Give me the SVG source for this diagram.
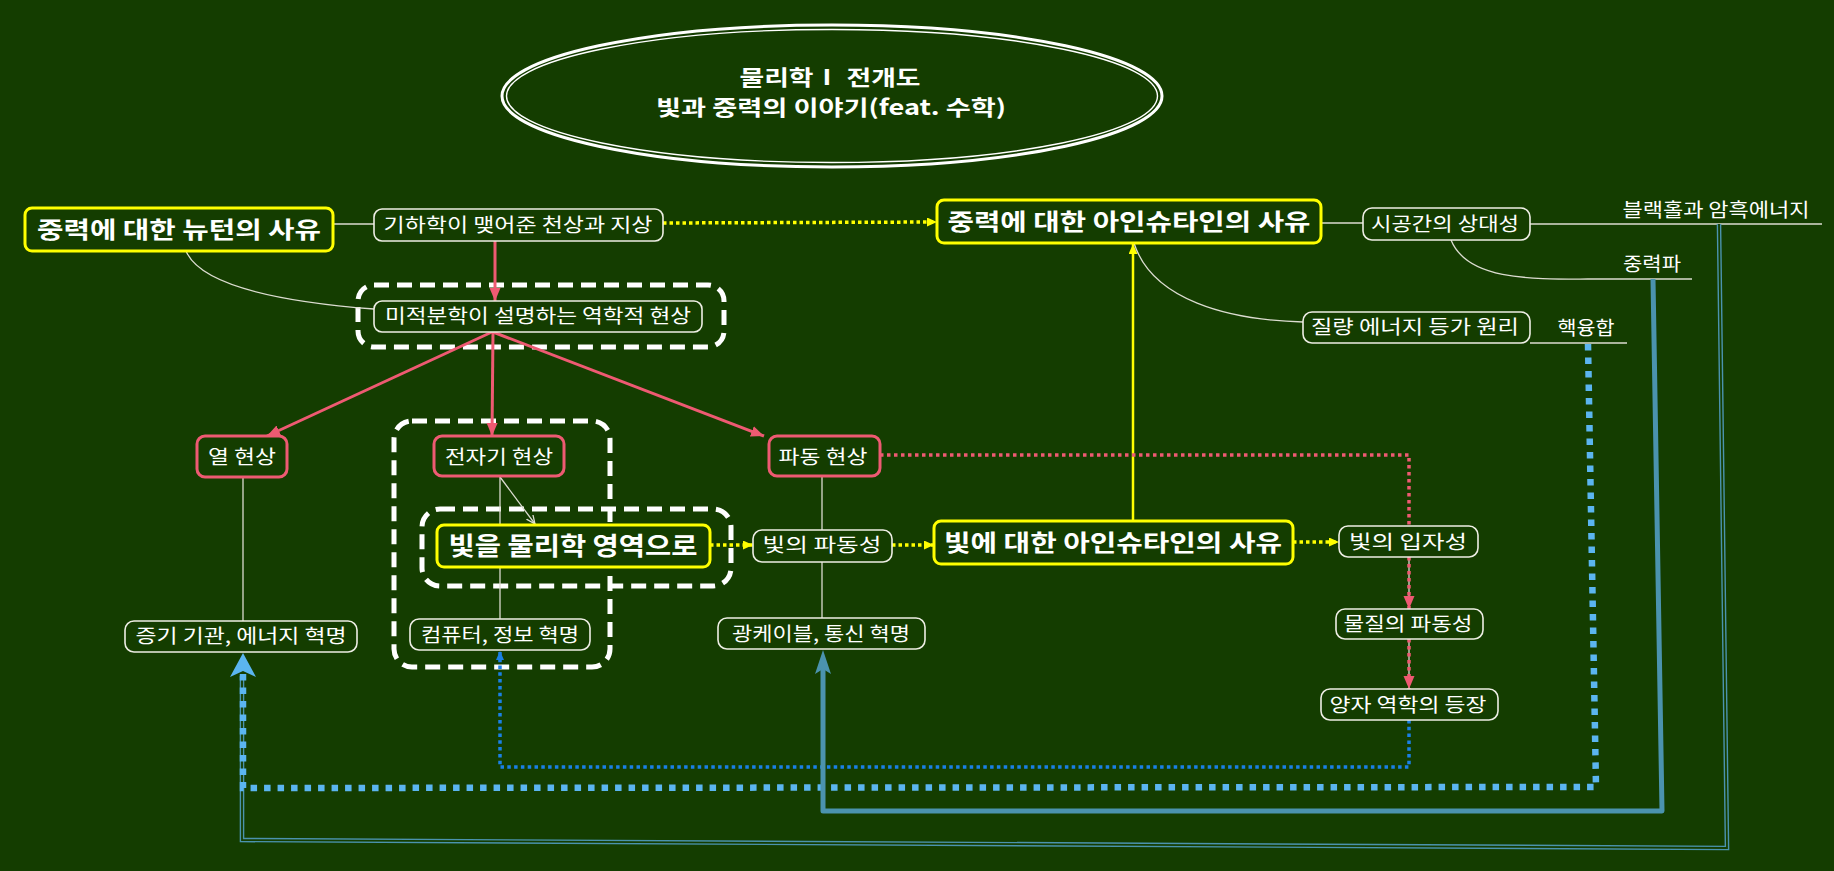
<svg xmlns="http://www.w3.org/2000/svg" width="1834" height="871" viewBox="0 0 1834 871">
<style>
  text { font-family: "Noto Sans CJK KR", "Noto Sans", sans-serif; fill: #ffffff; text-anchor: middle; }
  .t { font-size: 19.5px; }
  .b { font-size: 23px; font-weight: bold; }
  .box { fill: #143d00; stroke: #eeeee4; stroke-width: 1.6; }
  .ybox { fill: #143d00; stroke: #ffff00; stroke-width: 3; }
  .rbox { fill: #143d00; stroke: #ee5a72; stroke-width: 3; }
  .cloud { fill: none; stroke: #ffffff; stroke-width: 5; stroke-dasharray: 15 8; }
  .thin { fill: none; stroke: #dcdcd0; stroke-width: 1.3; }
  .red { fill: none; stroke: #ee5a72; stroke-width: 3; }
  .reddot { fill: none; stroke: #ee5a72; stroke-width: 3.5; stroke-dasharray: 3.5 3.5; }
  .ydot { fill: none; stroke: #ffff00; stroke-width: 3.5; stroke-dasharray: 3.5 3; }
  .ysolid { fill: none; stroke: #ffff00; stroke-width: 2.5; }
  .bdot { fill: none; stroke: #1a80e6; stroke-width: 3.5; stroke-dasharray: 3.5 3.3; }
  .lbdot { fill: none; stroke: #5bb5f0; stroke-width: 6.5; stroke-dasharray: 6.5 7; }
  .steel { fill: none; stroke: #4b93ae; stroke-width: 5; stroke-linejoin: round; }
  .dbl-out { fill: none; stroke: #4b93ae; stroke-width: 4.6; }
  .dbl-in { fill: none; stroke: #143d00; stroke-width: 1.8; }
</style>
<defs>
  <marker id="aRed" markerUnits="userSpaceOnUse" markerWidth="14" markerHeight="12" refX="13" refY="5.5" orient="auto">
    <path d="M0,0 L13,5.5 L0,11 z" fill="#ee5a72"/>
  </marker>
  <marker id="aYel" markerUnits="userSpaceOnUse" markerWidth="11" markerHeight="10" refX="10" refY="4.5" orient="auto">
    <path d="M0,0 L10,4.5 L0,9 z" fill="#ffff00"/>
  </marker>
  <marker id="aLB" markerUnits="userSpaceOnUse" markerWidth="26" markerHeight="28" refX="6" refY="13" orient="auto">
    <path d="M0,0 L24,13 L0,26 L6,13 z" fill="#5bb5f0"/>
  </marker>
  <marker id="aSteel" markerUnits="userSpaceOnUse" markerWidth="26" markerHeight="18" refX="5" refY="8" orient="auto">
    <path d="M0,0 L24,8 L0,16 L5,8 z" fill="#4b93ae"/>
  </marker>
  <marker id="aBlue" markerUnits="userSpaceOnUse" markerWidth="10" markerHeight="9" refX="9" refY="4" orient="auto">
    <path d="M0,0 L9,4 L0,8 z" fill="#1a80e6"/>
  </marker>
  <marker id="aGray" markerUnits="userSpaceOnUse" markerWidth="11" markerHeight="10" refX="9" refY="4" orient="auto">
    <path d="M0,0 L9,4 L0,8" fill="none" stroke="#dcdcd0" stroke-width="1.3"/>
  </marker>
</defs>

<rect x="0" y="0" width="1834" height="871" fill="#143d00"/>

<!-- title -->
<g id="title">
  <ellipse cx="832" cy="96" rx="330" ry="71" fill="none" stroke="#ffffff" stroke-width="3"/>
  <ellipse cx="832" cy="96" rx="325.5" ry="66.5" fill="none" stroke="#ffffff" stroke-width="1.4"/>
  <text x="830" y="85" font-size="21" font-weight="bold" textLength="181" lengthAdjust="spacingAndGlyphs">물리학Ⅰ 전개도</text>
  <text x="831" y="115" font-size="21" font-weight="bold" textLength="350" lengthAdjust="spacingAndGlyphs">빛과 중력의 이야기(feat. 수학)</text>
</g>

<!-- boundaries -->
<g id="boundaries">
  <rect class="cloud" x="358" y="285" width="366" height="62" rx="16"/>
  <rect class="cloud" x="394" y="421" width="216" height="246" rx="18"/>
  <rect class="cloud" x="422" y="509" width="309" height="77" rx="18"/>
</g>

<!-- connectors -->
<g id="connectors">
  <line class="thin" x1="333" y1="224" x2="374" y2="224"/>
  <path class="thin" d="M186,251 Q205,296 374,309"/>
  <line class="red" x1="495" y1="241" x2="495" y2="301" marker-end="url(#aRed)"/>
  <line class="ydot" x1="663" y1="223" x2="937" y2="222" marker-end="url(#aYel)"/>
  <line class="red" x1="492" y1="332" x2="267" y2="436" marker-end="url(#aRed)"/>
  <line class="red" x1="493" y1="332" x2="492" y2="436" marker-end="url(#aRed)"/>
  <line class="red" x1="493" y1="332" x2="764" y2="436" marker-end="url(#aRed)"/>
  <line class="thin" x1="243" y1="477" x2="243" y2="621"/>
  <line class="thin" x1="500" y1="476" x2="500" y2="619"/>
  <line class="thin" x1="500" y1="477" x2="535" y2="524" marker-end="url(#aGray)"/>
  <line class="thin" x1="822" y1="476" x2="822" y2="618"/>
  <line class="ydot" x1="710" y1="545" x2="753" y2="545" marker-end="url(#aYel)"/>
  <line class="ydot" x1="892" y1="545" x2="934" y2="545" marker-end="url(#aYel)"/>
  <line class="ydot" x1="1293" y1="542" x2="1339" y2="542" marker-end="url(#aYel)"/>
  <line class="ysolid" x1="1133" y1="521" x2="1133" y2="244" marker-end="url(#aYel)"/>
  <line class="thin" x1="1321" y1="223" x2="1363" y2="223"/>
  <line class="thin" x1="1530" y1="224" x2="1822" y2="224"/>
  <path class="thin" d="M1451,240 C1468,282 1535,279 1600,279 L1692,279"/>
  <path class="thin" d="M1134,243 C1152,300 1228,320 1303,322"/>
  <line class="thin" x1="1530" y1="343" x2="1627" y2="343"/>
  <path class="reddot" d="M880,455 L1409,455 L1409,526"/>
  <line class="thin" x1="1409" y1="557" x2="1409" y2="609"/>
  <line class="reddot" x1="1409" y1="557" x2="1409" y2="609" marker-end="url(#aRed)"/>
  <line class="thin" x1="1409" y1="639" x2="1409" y2="689"/>
  <line class="reddot" x1="1409" y1="639" x2="1409" y2="689" marker-end="url(#aRed)"/>
  <path class="bdot" d="M1409,720 L1409,767 L500,767 L500,651" marker-end="url(#aBlue)"/>
  <path class="dbl-out" d="M1719,224 L1727,848 L242,840 L242,676"/>
  <path class="dbl-in" d="M1719,224 L1727,848 L242,840 L242,676"/>
  <path class="lbdot" d="M1588,344 L1596,787 L243,788 L243,671" marker-end="url(#aLB)"/>
  <path class="steel" d="M1653,279 L1662,811 L823,811 L823,669" marker-end="url(#aSteel)"/>
</g>

<!-- nodes -->
<g id="n-newton">
  <rect class="ybox" x="25" y="208" width="308" height="43" rx="7"/>
  <text class="b" x="179" y="238" textLength="284" lengthAdjust="spacingAndGlyphs">중력에 대한 뉴턴의 사유</text>
</g>
<g id="n-geometry">
  <rect class="box" x="374" y="209" width="289" height="32" rx="8"/>
  <text class="t" x="518" y="232" textLength="269" lengthAdjust="spacingAndGlyphs">기하학이 맺어준 천상과 지상</text>
</g>
<g id="n-calculus">
  <rect class="box" x="374" y="301" width="328" height="31" rx="8"/>
  <text class="t" x="538" y="323" textLength="306" lengthAdjust="spacingAndGlyphs">미적분학이 설명하는 역학적 현상</text>
</g>
<g id="n-einstein-gravity">
  <rect class="ybox" x="937" y="200" width="384" height="43" rx="7"/>
  <text class="b" x="1129" y="230" textLength="363" lengthAdjust="spacingAndGlyphs">중력에 대한 아인슈타인의 사유</text>
</g>
<g id="n-spacetime">
  <rect class="box" x="1363" y="208" width="167" height="32" rx="9"/>
  <text class="t" x="1445" y="231" textLength="148" lengthAdjust="spacingAndGlyphs">시공간의 상대성</text>
</g>
<g id="n-blackhole">
  <text class="t" x="1716" y="217" textLength="187" lengthAdjust="spacingAndGlyphs">블랙홀과 암흑에너지</text>
</g>
<g id="n-gravwave">
  <text class="t" x="1652" y="271" textLength="58" lengthAdjust="spacingAndGlyphs">중력파</text>
</g>
<g id="n-massenergy">
  <rect class="box" x="1303" y="312" width="227" height="31" rx="9"/>
  <text class="t" x="1415" y="334" textLength="208" lengthAdjust="spacingAndGlyphs">질량 에너지 등가 원리</text>
</g>
<g id="n-fusion">
  <text class="t" x="1586" y="335" textLength="57" lengthAdjust="spacingAndGlyphs">핵융합</text>
</g>
<g id="n-heat">
  <rect class="rbox" x="197" y="436" width="90" height="41" rx="8"/>
  <text class="t" x="242" y="464" textLength="68" lengthAdjust="spacingAndGlyphs">열 현상</text>
</g>
<g id="n-em">
  <rect class="rbox" x="434" y="436" width="130" height="40" rx="8"/>
  <text class="t" x="499" y="464" textLength="108" lengthAdjust="spacingAndGlyphs">전자기 현상</text>
</g>
<g id="n-wave">
  <rect class="rbox" x="769" y="436" width="111" height="40" rx="8"/>
  <text class="t" x="823" y="464" textLength="89" lengthAdjust="spacingAndGlyphs">파동 현상</text>
</g>
<g id="n-light-physics">
  <rect class="ybox" x="437" y="525" width="273" height="42" rx="7"/>
  <text x="573" y="555" font-size="25" font-weight="bold" textLength="249" lengthAdjust="spacingAndGlyphs">빛을 물리학 영역으로</text>
</g>
<g id="n-light-wave">
  <rect class="box" x="753" y="530" width="139" height="32" rx="9"/>
  <text class="t" x="822" y="552" textLength="119" lengthAdjust="spacingAndGlyphs">빛의 파동성</text>
</g>
<g id="n-einstein-light">
  <rect class="ybox" x="934" y="521" width="359" height="43" rx="7"/>
  <text class="b" x="1113" y="551" textLength="338" lengthAdjust="spacingAndGlyphs">빛에 대한 아인슈타인의 사유</text>
</g>
<g id="n-light-particle">
  <rect class="box" x="1339" y="526" width="139" height="31" rx="9"/>
  <text class="t" x="1408" y="549" textLength="118" lengthAdjust="spacingAndGlyphs">빛의 입자성</text>
</g>
<g id="n-steam">
  <rect class="box" x="125" y="621" width="232" height="31" rx="9"/>
  <text class="t" x="241" y="643" textLength="211" lengthAdjust="spacingAndGlyphs">증기 기관, 에너지 혁명</text>
</g>
<g id="n-computer">
  <rect class="box" x="410" y="619" width="180" height="31" rx="9"/>
  <text class="t" x="500" y="642" textLength="158" lengthAdjust="spacingAndGlyphs">컴퓨터, 정보 혁명</text>
</g>
<g id="n-fiber">
  <rect class="box" x="718" y="618" width="207" height="31" rx="9"/>
  <text class="t" x="821" y="641" textLength="178" lengthAdjust="spacingAndGlyphs">광케이블, 통신 혁명</text>
</g>
<g id="n-matter-wave">
  <rect class="box" x="1336" y="609" width="147" height="30" rx="9"/>
  <text class="t" x="1408" y="631" textLength="129" lengthAdjust="spacingAndGlyphs">물질의 파동성</text>
</g>
<g id="n-quantum">
  <rect class="box" x="1321" y="689" width="177" height="31" rx="9"/>
  <text class="t" x="1408" y="712" textLength="157" lengthAdjust="spacingAndGlyphs">양자 역학의 등장</text>
</g>
</svg>
